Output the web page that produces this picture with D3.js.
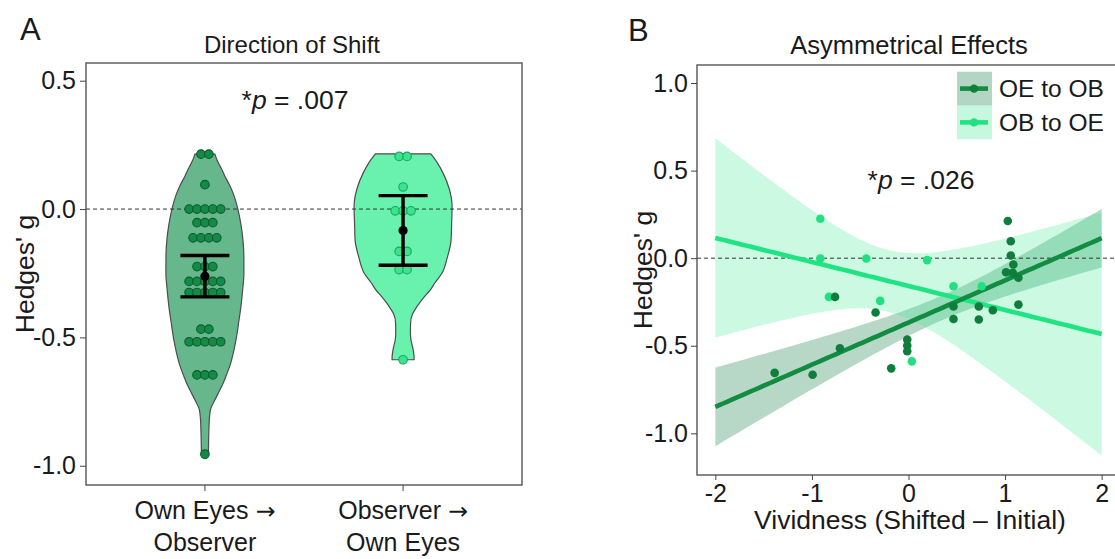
<!DOCTYPE html>
<html><head><meta charset="utf-8">
<script src="https://cdn.jsdelivr.net/npm/d3@7"></script>
<style>
body{margin:0;background:#fff}
text{font-family:"Liberation Sans",Arial,Helvetica,sans-serif;fill:#1a1a1a}
</style>
</head><body>
<svg id="c" width="1115" height="559"></svg>
<script>
// ---------------- DATA ----------------
// Panel A: Direction of Shift
const groupsA = ["Own Eyes → Observer", "Observer → Own Eyes"];
const groupLabelLinesA = [["Own Eyes", "Observer"], ["Observer", "Own Eyes"]];
const ownToObsValues = [0.214,0.214, 0.095,
  0,0,0,0,0, -0.053,-0.053,-0.053, -0.112,-0.112,-0.112,-0.112,
  -0.224,-0.224,-0.224, -0.282,-0.282,-0.282,-0.282,-0.282,
  -0.325,-0.325,-0.325,-0.325,-0.325, -0.468,-0.468,
  -0.517,-0.517,-0.517,-0.517,-0.517, -0.646,-0.646,-0.646, -0.955];
const obsToOwnValues = [0.205,0.205, 0.086, -0.007,-0.007,-0.007,
  -0.165,-0.165, -0.236,-0.236, -0.587];
// violin outline: [value, relative density]
const ownToObsViolin = [[0.214,0.204],[0.192,0.245],[0.160,0.33],[0.127,0.41],[0.095,0.50],[0.062,0.575],
  [0.0,0.673],[-0.06,0.735],[-0.12,0.776],[-0.185,0.795],[-0.25,0.796],[-0.315,0.77],[-0.38,0.735],[-0.44,0.69],
  [-0.50,0.643],[-0.56,0.58],[-0.61,0.51],[-0.646,0.44],[-0.68,0.37],[-0.715,0.28],[-0.745,0.20],
  [-0.78,0.115],[-0.82,0.09],[-0.87,0.08],[-0.955,0.071]];
const obsToOwnViolin = [[0.215,0.567],[0.18,0.70],[0.14,0.816],[0.08,0.94],[0.01,1.0],[-0.06,0.99],
  [-0.12,0.98],[-0.19,0.90],[-0.249,0.796],[-0.29,0.64],[-0.314,0.56],[-0.345,0.42],[-0.379,0.286],
  [-0.41,0.19],[-0.444,0.153],[-0.48,0.150],[-0.509,0.16],[-0.53,0.185],[-0.548,0.205],[-0.57,0.222],[-0.587,0.225]];
const tickValuesA = [-1.0, -0.5, 0.0, 0.5];
const tickLabelsA = ["-1.0", "-0.5", "0.0", "0.5"];

// Panel B: Asymmetrical Effects
const seriesB = ["OE to OB", "OB to OE"];
const oeToObX = [-1.386,-0.993,-0.710,-0.761,-0.341,-0.179,-0.013,-0.013,-0.013,0.466,0.466,
  0.728,0.728,0.873,1.028,1.059,1.059,1.086,1.010,1.080,1.138,1.138];
const oeToObY = [-0.655,-0.666,-0.514,-0.221,-0.310,-0.629,-0.465,-0.499,-0.531,-0.276,-0.347,
  -0.276,-0.350,-0.297,0.212,0.097,0.015,-0.036,-0.080,-0.084,-0.112,-0.265];
const obToOeX = [-0.913,-0.913,-0.824,-0.437,-0.293,0.193,0.035,0.466,0.759];
const obToOeY = [0.225,-0.002,-0.221,-0.002,-0.244,-0.011,-0.589,-0.160,-0.160];
const fitRangeB = [-2, 2];
const xTickValuesB = [-2, -1, 0, 1, 2];
const xTickLabelsB = ["-2", "-1", "0", "1", "2"];
const yTickValuesB = [-1.0, -0.5, 0.0, 0.5, 1.0];
const yTickLabelsB = ["-1.0", "-0.5", "0.0", "0.5", "1.0"];

// ---------------- STYLE / LAYOUT ----------------
const svg = d3.select("#c");
const TICK = 25, TITLE = 25.5, AXT = 26.5;
const frame = "#555";
const colDark = "#118c41", colLight = "#1fe482";
const A = {x0: 86, x1: 522, y0: 63, y1: 485};
const B = {x0: 697, x1: 1120, y0: 65, y1: 475};

// ---------------- PANEL A ----------------
const yA = d3.scaleLinear().domain([-1.075, 0.569]).range([A.y1, A.y0]);
const xA = d3.scalePoint().domain(groupsA).range([A.x0, A.x1]).padding(0.6);
const wA = d3.scaleLinear().domain([0, 1]).range([0, 49]);

const gA = svg.append("g");
const violinArea = cx => d3.area().curve(d3.curveMonotoneY)
  .y(d => yA(d[0])).x0(d => cx - wA(d[1])).x1(d => cx + wA(d[1]));

const violins = [
  {g: groupsA[0], prof: ownToObsViolin, fill: "#66b78b", vals: ownToObsValues, dot: "#138a46", dotS: "#0b5c2d"},
  {g: groupsA[1], prof: obsToOwnViolin, fill: "#68f2ad", vals: obsToOwnValues, dot: "#3ce28d", dotS: "#16a95b"}
];
violins.forEach(v => {
  gA.append("path").attr("d", violinArea(xA(v.g))(v.prof))
    .attr("fill", v.fill).attr("stroke", "#4d4d4d").attr("stroke-width", 1.2);
});
gA.append("line").attr("x1", A.x0).attr("x2", A.x1).attr("y1", yA(0)).attr("y2", yA(0))
  .attr("stroke", "#333").attr("stroke-width", 1).attr("stroke-dasharray", "4,3");

const dotGap = 7.9;
violins.forEach(v => {
  const cx = xA(v.g);
  d3.groups(v.vals, d => d).forEach(([val, arr]) => {
    arr.forEach((_, i) => {
      gA.append("circle").attr("cx", cx + (i - (arr.length - 1) / 2) * dotGap).attr("cy", yA(val))
        .attr("r", 4.3).attr("fill", v.dot).attr("stroke", v.dotS).attr("stroke-width", 1.1);
    });
  });
});
violins.forEach(v => {
  const cx = xA(v.g);
  const m = d3.mean(v.vals), se = d3.deviation(v.vals) / Math.sqrt(v.vals.length);
  const lo = m - 1.96 * se, hi = m + 1.96 * se;
  const cap = 24.5;
  gA.append("line").attr("x1", cx).attr("x2", cx).attr("y1", yA(lo)).attr("y2", yA(hi))
    .attr("stroke", "#000").attr("stroke-width", 3.4);
  [lo, hi].forEach(e => gA.append("line").attr("x1", cx - cap).attr("x2", cx + cap)
    .attr("y1", yA(e)).attr("y2", yA(e)).attr("stroke", "#000").attr("stroke-width", 3.4));
  gA.append("circle").attr("cx", cx).attr("cy", yA(m)).attr("r", 4.6).attr("fill", "#000");
});
gA.append("rect").attr("x", A.x0).attr("y", A.y0).attr("width", A.x1 - A.x0).attr("height", A.y1 - A.y0)
  .attr("fill", "none").attr("stroke", frame).attr("stroke-width", 1.4);
const axA = gA.append("g").attr("transform", `translate(${A.x0},0)`)
  .call(d3.axisLeft(yA).tickValues(tickValuesA).tickFormat((d, i) => tickLabelsA[i]).tickSize(6).tickPadding(4));
axA.select(".domain").remove();
axA.selectAll("line").attr("stroke", "#444");
axA.selectAll("text").attr("font-size", TICK).attr("font-family", null).attr("fill", "#1a1a1a");
groupsA.forEach((g, i) => {
  const cx = xA(g);
  gA.append("line").attr("x1", cx).attr("x2", cx).attr("y1", A.y1).attr("y2", A.y1 + 6).attr("stroke", "#444");
  const lines = groupLabelLinesA[i];
  const t1 = gA.append("text").attr("x", cx).attr("y", 519).attr("text-anchor", "middle").attr("font-size", TICK);
  t1.append("tspan").text(lines[0] + " ");
  t1.append("tspan").attr("font-family", "DejaVu Sans").attr("font-size", TICK * 0.95).text("→");
  gA.append("text").attr("x", cx).attr("y", 551).attr("text-anchor", "middle").attr("font-size", TICK).text(lines[1]);
});
gA.append("text").attr("x", 20).attr("y", 40).attr("font-size", 31).text("A");
gA.append("text").attr("x", 292).attr("y", 53).attr("text-anchor", "middle").attr("font-size", 24).text("Direction of Shift");
gA.append("text").attr("transform", `translate(34,${(A.y0 + A.y1) / 2}) rotate(-90)`)
  .attr("text-anchor", "middle").attr("font-size", AXT).text("Hedges' g");
const pA = gA.append("text").attr("x", 295).attr("y", 109).attr("text-anchor", "middle").attr("font-size", 26.5);
pA.append("tspan").text("*");
pA.append("tspan").attr("font-style", "italic").text("p");
pA.append("tspan").text(" = .007");

// ---------------- PANEL B ----------------
const xB = d3.scaleLinear().domain([-2.19, 2.19]).range([B.x0, B.x1]);
const yB = d3.scaleLinear().domain([-1.238, 1.103]).range([B.y1, B.y0]);
const gB = svg.append("g");
svg.append("defs").append("clipPath").attr("id", "clipB").append("rect")
  .attr("x", B.x0).attr("y", B.y0).attr("width", B.x1 - B.x0).attr("height", B.y1 - B.y0);
const plotB = gB.append("g").attr("clip-path", "url(#clipB)");

function tq975(df) { // Cornish-Fisher approximation of the t quantile
  const z = 1.959964, z3 = z ** 3, z5 = z ** 5, z7 = z ** 7, z9 = z ** 9;
  return z + (z3 + z) / (4 * df) + (5 * z5 + 16 * z3 + 3 * z) / (96 * df * df)
    + (3 * z7 + 19 * z5 + 17 * z3 - 15 * z) / (384 * df ** 3)
    + (79 * z9 + 776 * z7 + 1482 * z5 - 1920 * z3 - 945 * z) / (92160 * df ** 4);
}
function lmFit(xs, ys) {
  const n = xs.length, mx = d3.mean(xs), my = d3.mean(ys);
  let sxx = 0, sxy = 0;
  xs.forEach((x, i) => { sxx += (x - mx) ** 2; sxy += (x - mx) * (ys[i] - my); });
  const b = sxy / sxx, a = my - b * mx;
  let ssr = 0; xs.forEach((x, i) => { ssr += (ys[i] - a - b * x) ** 2; });
  const s = Math.sqrt(ssr / (n - 2)), t = tq975(n - 2);
  return x => {
    const yhat = a + b * x, se = s * Math.sqrt(1 / n + (x - mx) ** 2 / sxx);
    return {x, y: yhat, lo: yhat - t * se, hi: yhat + t * se};
  };
}
const seriesDefs = [
  {name: seriesB[0], xs: oeToObX, ys: oeToObY, col: colDark, band: "#127d45", bandOp: 0.3, pt: "#0f7d3c"},
  {name: seriesB[1], xs: obToOeX, ys: obToOeY, col: colLight, band: "#2ee68c", bandOp: 0.25, pt: "#22e080"}
];
const grid = d3.range(fitRangeB[0], fitRangeB[1] + 1e-9, 0.04);
seriesDefs.forEach(s => { const f = lmFit(s.xs, s.ys); s.curve = grid.map(f); });
seriesDefs.forEach(s => {
  plotB.append("path").attr("d", d3.area().x(d => xB(d.x)).y0(d => yB(d.lo)).y1(d => yB(d.hi))(s.curve))
    .attr("fill", s.band).attr("fill-opacity", s.bandOp);
});
plotB.append("line").attr("x1", B.x0).attr("x2", B.x1).attr("y1", yB(0)).attr("y2", yB(0))
  .attr("stroke", "#333").attr("stroke-width", 1).attr("stroke-dasharray", "4,3");
[seriesDefs[1], seriesDefs[0]].forEach(s => {
  plotB.append("path").attr("d", d3.line().x(d => xB(d.x)).y(d => yB(d.y))(s.curve))
    .attr("fill", "none").attr("stroke", s.col).attr("stroke-width", 4.6);
});
[seriesDefs[1], seriesDefs[0]].forEach(s => {
  s.xs.forEach((x, i) => plotB.append("circle").attr("cx", xB(x)).attr("cy", yB(s.ys[i])).attr("r", 4.3)
    .attr("fill", s.pt));
});
gB.append("rect").attr("x", B.x0).attr("y", B.y0).attr("width", B.x1 - B.x0).attr("height", B.y1 - B.y0)
  .attr("fill", "none").attr("stroke", frame).attr("stroke-width", 1.4);
const axBy = gB.append("g").attr("transform", `translate(${B.x0},0)`)
  .call(d3.axisLeft(yB).tickValues(yTickValuesB).tickFormat((d, i) => yTickLabelsB[i]).tickSize(6).tickPadding(3));
const axBx = gB.append("g").attr("transform", `translate(0,${B.y1})`)
  .call(d3.axisBottom(xB).tickValues(xTickValuesB).tickFormat((d, i) => xTickLabelsB[i]).tickSize(5).tickPadding(4));
[axBy, axBx].forEach(ax => {
  ax.select(".domain").remove();
  ax.selectAll("line").attr("stroke", "#444");
  ax.selectAll("text").attr("font-size", TICK).attr("font-family", null).attr("fill", "#1a1a1a");
});
gB.append("text").attr("x", 628).attr("y", 41).attr("font-size", 31).text("B");
gB.append("text").attr("x", 909).attr("y", 54).attr("text-anchor", "middle").attr("font-size", TITLE).text("Asymmetrical Effects");
gB.append("text").attr("x", 910).attr("y", 529).attr("text-anchor", "middle").attr("font-size", AXT).text("Vividness (Shifted – Initial)");
gB.append("text").attr("transform", `translate(652,${(B.y0 + B.y1) / 2}) rotate(-90)`)
  .attr("text-anchor", "middle").attr("font-size", AXT).text("Hedges' g");
const pB = gB.append("text").attr("x", 921).attr("y", 189).attr("text-anchor", "middle").attr("font-size", 26.5);
pB.append("tspan").text("*");
pB.append("tspan").attr("font-style", "italic").text("p");
pB.append("tspan").text(" = .026");
const lg = gB.append("g");
seriesDefs.forEach((s, i) => {
  const ky = 71.7 + i * 33.8;
  lg.append("rect").attr("x", 957).attr("y", ky).attr("width", 35).attr("height", 33.8)
    .attr("fill", s.band).attr("fill-opacity", s.bandOp + 0.02);
  lg.append("line").attr("x1", 960).attr("x2", 988).attr("y1", ky + 16.9).attr("y2", ky + 16.9)
    .attr("stroke", s.col).attr("stroke-width", 4.6);
  lg.append("circle").attr("cx", 974).attr("cy", ky + 16.9).attr("r", 4.2).attr("fill", s.pt);
  lg.append("text").attr("x", 999).attr("y", ky + 16.9).attr("dy", "0.36em").attr("font-size", 24.5).text(s.name);
});
</script>
</body></html>
